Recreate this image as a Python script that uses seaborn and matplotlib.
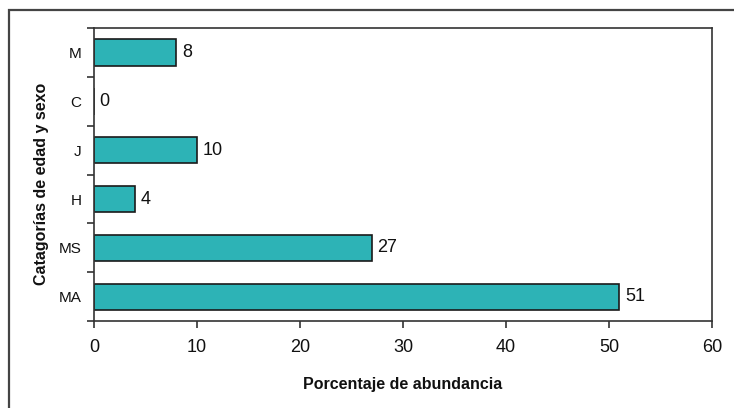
import matplotlib
matplotlib.use("Agg")
import matplotlib.pyplot as plt
from matplotlib.patches import Rectangle
from matplotlib.ticker import FixedLocator
import seaborn as sns
import pandas as pd

# Age and sex categories (top to bottom) and their relative abundance (%)
categorias = ["M", "C", "J", "H", "MS", "MA"]
porcentajes = [8, 0, 10, 4, 27, 51]
xticks = [0, 10, 20, 30, 40, 50, 60]

sns.set_theme(style="white")
plt.rcParams["font.family"] = ["Liberation Sans", "DejaVu Sans"]

df = pd.DataFrame({"categoria": categorias, "porcentaje": porcentajes})

fig = plt.figure(figsize=(7.34, 4.08), dpi=100)
ax = fig.add_axes([0.128, 0.213, 0.842, 0.718])

sns.barplot(data=df, x="porcentaje", y="categoria", order=categorias,
            orient="h", color="#2DB3B6", saturation=1, width=0.54,
            edgecolor="#1a1a1a", linewidth=1.2, ax=ax)

for cont in ax.containers:
    ax.bar_label(cont, labels=[f"{v:.0f}" for v in porcentajes],
                 padding=4, fontsize=13, color="#111111")

ax.set_xlim(0, 60)
ax.set_xticks(xticks)
ax.set_xticklabels([str(t) for t in xticks], fontsize=13, color="#111111")
ax.set_ylim(len(categorias) - 0.5, -0.5)
ax.tick_params(axis="y", which="major", length=0, labelsize=11, pad=9,
               labelcolor="#111111")
ax.yaxis.set_minor_locator(FixedLocator([i - 0.5 for i in range(len(categorias) + 1)]))
ax.tick_params(axis="y", which="minor", left=True, length=5, width=1.2,
               color="#333333", direction="out")
ax.tick_params(axis="x", which="major", bottom=True, length=5, width=1.2,
               color="#333333", direction="out", pad=8)

for s in ax.spines.values():
    s.set_color("#333333")
    s.set_linewidth(1.2)

ax.set_xlabel("Porcentaje de abundancia", fontsize=11.5, fontweight="bold",
              color="#111111")
ax.set_ylabel("Catagorías de edad y sexo", fontsize=11.5, fontweight="bold",
              color="#111111")
ax.xaxis.set_label_coords(0.5, -0.19)
ax.yaxis.set_label_coords(-0.073, 0.47)

# Outer chart frame
W, H = 734, 408
fig.add_artist(Rectangle((9 / W, -0.05), 1.2, (H - 10) / H + 0.05,
                         transform=fig.transFigure, fill=False,
                         edgecolor="#444444", linewidth=1.6))

fig.savefig("out.png", dpi=100)
